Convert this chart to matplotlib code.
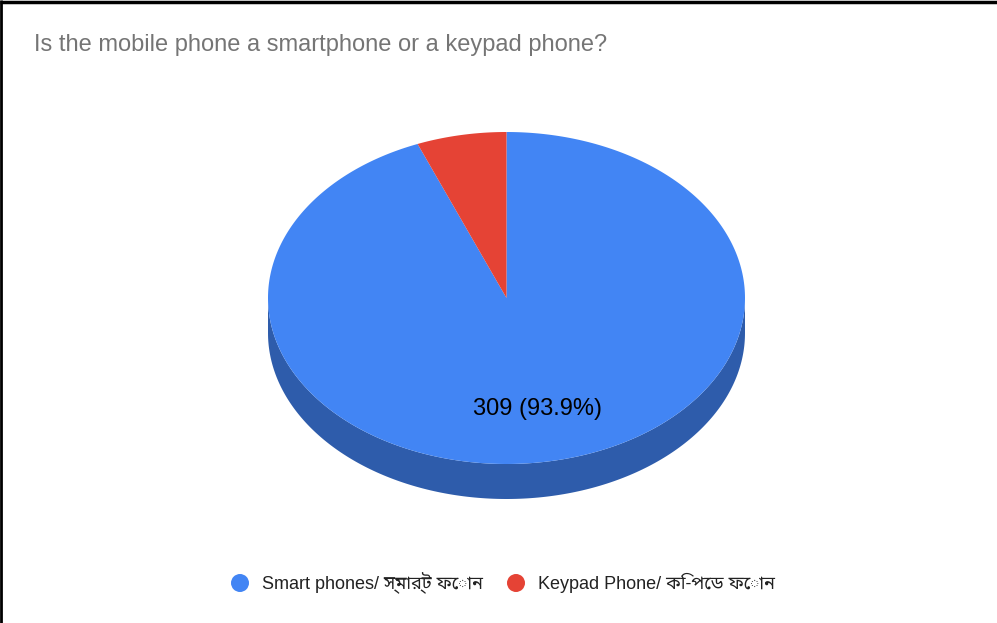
import numpy as np
import matplotlib
matplotlib.use("Agg")
import matplotlib.pyplot as plt
from matplotlib.patches import Polygon, Circle

plt.rcParams['font.family'] = ['Liberation Sans', 'Noto Sans Bengali', 'Noto Serif Bengali',
                               'Lohit Bengali', 'FreeSans', 'DejaVu Sans']

title = "Is the mobile phone a smartphone or a keypad phone?"
labels = ["Smart phones/ স্মার্ট ফোন", "Keypad Phone/ কি-পেড ফোন"]
counts = [309, 20]
top_colors = ["#4285f4", "#e54335"]
side_colors = ["#2e5cab", "#a02f25"]

W, H = 997, 623
fig = plt.figure(figsize=(W / 100, H / 100), dpi=100)
ax = fig.add_axes([0, 0, 1, 1])
ax.set_xlim(0, W)
ax.set_ylim(H, 0)
ax.axis("off")

# pie geometry in pixels
cx, cy = 506.5, 298
rx, ry = 238.5, 166
depth = 35


def pt(theta, dy=0.0):
    # theta in degrees, clockwise from 12 o'clock
    t = np.radians(theta)
    return cx + rx * np.sin(t), cy - ry * np.cos(t) + dy


total = sum(counts)
starts = np.concatenate([[0], np.cumsum(counts)[:-1]]) / total * 360
ends = np.cumsum(counts) / total * 360

# side walls: only the front half (90..270 deg) is visible
for s, e, col in zip(starts, ends, side_colors):
    a, b = max(s, 90), min(e, 270)
    if a >= b:
        continue
    th = np.linspace(a, b, 200)
    upper = [pt(t) for t in th]
    lower = [pt(t, depth) for t in th[::-1]]
    ax.add_patch(Polygon(upper + lower, closed=True, facecolor=col, edgecolor="none"))

# top face
for s, e, col in zip(starts, ends, top_colors):
    th = np.linspace(s, e, 400)
    verts = [(cx, cy)] + [pt(t) for t in th]
    ax.add_patch(Polygon(verts, closed=True, facecolor=col, edgecolor="none"))

# value label on the big slice
i = 0
mid = (starts[i] + ends[i]) / 2
lx, ly = pt(mid)
f = 0.68
ax.text(cx + (lx - cx) * f, cy + (ly - cy) * f,
        f"{counts[i]} ({counts[i] / total * 100:.1f}%)",
        ha="center", va="center", fontsize=17, color="black")

ax.text(34, 45, title, ha="left", va="center", fontsize=17, color="#757575")

# legend
leg_x = [240, 516]
for x, lab, col in zip(leg_x, labels, top_colors):
    ax.add_patch(Circle((x, 583), 9, facecolor=col, edgecolor="none"))
    ax.text(x + 22, 583, lab, ha="left", va="center", fontsize=13, color="#222222")

# frame lines along top and left
ax.plot([0, W], [1.5, 1.5], color="black", lw=2.5, solid_capstyle="butt")
ax.plot([1, 1], [0, H], color="black", lw=2, solid_capstyle="butt")

fig.savefig("out.png", dpi=100)
